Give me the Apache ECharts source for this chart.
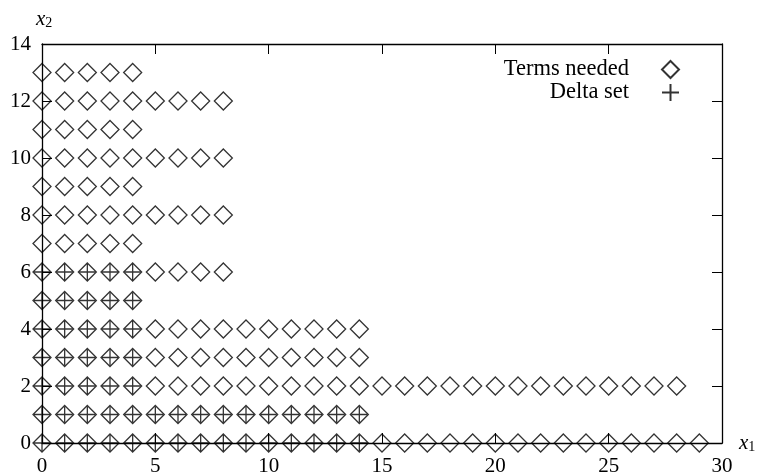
<!DOCTYPE html>
<html>
<head>
<meta charset="utf-8">
<script src="https://cdn.jsdelivr.net/npm/echarts@6/dist/echarts.min.js"></script>
<style>html,body{margin:0;padding:0;background:#fff;}#c{width:758px;height:475px;}</style>
</head>
<body>
<div id="c"></div>
<script>
// Row extents: for row y (index), points at x = 0..max
var termsRowMax = [29, 14, 28, 14, 14, 4, 8, 4, 8, 4, 8, 4, 8, 4]; // y = 0..13
var deltaRowMax = [14, 14, 4, 4, 4, 4, 4];                          // y = 0..6
var xTicks = [0, 5, 10, 15, 20, 25, 30];
var yTicks = [0, 2, 4, 6, 8, 10, 12, 14];
var seriesNames = ['Terms needed', 'Delta set'];

function rowsToPoints(rows) {
  var pts = [];
  for (var y = 0; y < rows.length; y++) {
    for (var x = 0; x <= rows[y]; x++) pts.push([x, y]);
  }
  return pts;
}
var termsData = rowsToPoints(termsRowMax);
var deltaData = rowsToPoints(deltaRowMax);

var FONT = 'Liberation Serif';
var chart = echarts.init(document.getElementById('c'), null, {renderer: 'canvas'});
function axisCommon() {
  return {
    axisLine: {onZero: false, lineStyle: {color: '#000', width: 1.3}},
    axisTick: {inside: true, length: 10, lineStyle: {color: '#000', width: 1}},
    splitLine: {show: false}
  };
}
chart.setOption({
  animation: false,
  backgroundColor: '#fff',
  grid: {left: 42, right: 36, top: 44, bottom: 32, containLabel: false, outerBoundsMode: 'none'},
  legend: {
    orient: 'vertical', right: 73, top: 53, align: 'right',
    itemGap: 0, itemWidth: 17, itemHeight: 17,
    textStyle: {fontFamily: FONT, fontSize: 22.5, color: '#000', lineHeight: 18, padding: [0, 28, 0, 0]},
    data: [
      {name: seriesNames[0]},
      {name: seriesNames[1]}
    ]
  },
  xAxis: [
    Object.assign({
      type: 'value', min: xTicks[0], max: xTicks[xTicks.length - 1], interval: 5,
      position: 'bottom',
      name: '{i|x}{s|1}', nameLocation: 'end', nameGap: 17,
      nameTextStyle: {rich: {
        i: {fontFamily: FONT, fontStyle: 'italic', fontSize: 21, color: '#000'},
        s: {fontFamily: FONT, fontSize: 14, color: '#000', verticalAlign: 'bottom', padding: [8, 0, 0, 0]}
      }},
      axisLabel: {fontFamily: FONT, fontSize: 21, color: '#000', margin: 13}
    }, axisCommon()),
    Object.assign({
      type: 'value', min: xTicks[0], max: xTicks[xTicks.length - 1], interval: 5,
      position: 'top', axisLabel: {show: false}
    }, axisCommon())
  ],
  yAxis: [
    Object.assign({
      type: 'value', min: yTicks[0], max: yTicks[yTicks.length - 1], interval: 2,
      position: 'left',
      name: '{i|x}{s|2}', nameLocation: 'end', nameGap: 14,
      nameTextStyle: {align: 'left', padding: [0, 0, 0, -6], rich: {
        i: {fontFamily: FONT, fontStyle: 'italic', fontSize: 21, color: '#000'},
        s: {fontFamily: FONT, fontSize: 14, color: '#000', verticalAlign: 'bottom', padding: [8, 0, 0, 0]}
      }},
      axisLabel: {fontFamily: FONT, fontSize: 21, color: '#000', margin: 11}
    }, axisCommon()),
    Object.assign({
      type: 'value', min: yTicks[0], max: yTicks[yTicks.length - 1], interval: 2,
      position: 'right', axisLabel: {show: false}
    }, axisCommon())
  ],
  series: [
    {
      name: seriesNames[0], type: 'scatter', data: termsData, clip: false,
      symbol: 'diamond', symbolSize: 18,
      itemStyle: {color: 'rgba(255,255,255,0)', borderColor: '#000', borderWidth: 1.3},
      z: 3
    },
    {
      name: seriesNames[1], type: 'scatter', data: deltaData, clip: false,
      symbol: 'path://M0,-1L0,1M-1,0L1,0', symbolSize: 16,
      itemStyle: {color: 'rgba(255,255,255,0)', borderColor: '#000', borderWidth: 1.3},
      z: 4
    }
  ]
});
</script>
</body>
</html>
